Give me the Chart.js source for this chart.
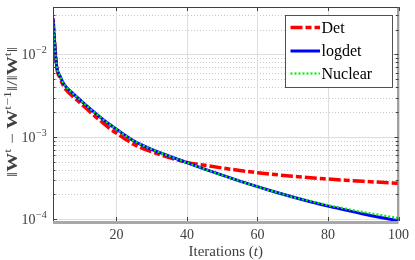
<!DOCTYPE html>
<html>
<head>
<meta charset="utf-8">
<script src="https://cdn.jsdelivr.net/npm/chart.js@4.4.0/dist/chart.umd.min.js"></script>
<style>
  html, body { margin: 0; padding: 0; background: #fff; }
</style>
</head>
<body>
<canvas id="errChart" width="415" height="260"></canvas>
<script>
// values
const iterations = [2, 3, 4, 5, 6, 8, 10, 12, 14, 16, 18, 20, 25, 30, 35, 40, 45, 50, 55, 60, 65, 70, 75, 80, 85, 90, 95, 100];
const detErr = [0.0275, 7.25e-3, 5.19e-3, 4.15e-3, 3.61e-3, 3.0e-3, 2.51e-3, 2.1e-3, 1.76e-3, 1.5e-3, 1.27e-3, 1.106e-3, 8.09e-4, 6.58e-4, 5.59e-4, 4.89e-4, 4.51e-4, 4.18e-4, 3.9e-4, 3.67e-4, 3.48e-4, 3.32e-4, 3.18e-4, 3.07e-4, 2.97e-4, 2.88e-4, 2.8e-4, 2.73e-4];
const logdetErr = [0.0275, 7.46e-3, 5.48e-3, 4.44e-3, 3.92e-3, 3.26e-3, 2.73e-3, 2.29e-3, 1.94e-3, 1.65e-3, 1.42e-3, 1.237e-3, 8.91e-4, 7.05e-4, 5.83e-4, 4.86e-4, 4.06e-4, 3.42e-4, 2.9e-4, 2.48e-4, 2.14e-4, 1.86e-4, 1.63e-4, 1.44e-4, 1.29e-4, 1.156e-4, 1.047e-4, 9.56e-5];
const nuclearErr = [0.0275, 7.46e-3, 5.48e-3, 4.44e-3, 3.92e-3, 3.26e-3, 2.73e-3, 2.29e-3, 1.94e-3, 1.65e-3, 1.42e-3, 1.237e-3, 8.91e-4, 7.05e-4, 5.83e-4, 4.86e-4, 4.06e-4, 3.42e-4, 2.9e-4, 2.48e-4, 2.14e-4, 1.86e-4, 1.655e-4, 1.48e-4, 1.34e-4, 1.22e-4, 1.12e-4, 1.03e-4];
const seriesNames = ["Det", "logdet", "Nuclear"];
const xTickValues = [20, 40, 60, 80, 100];
const yDecadeExps = [-4, -3, -2];

const SERIF = "'Liberation Serif', 'DejaVu Serif', serif";
const seriesStyle = [
  { color: "#ff0000", width: 3.5, dash: [12, 3, 6, 3] },
  { color: "#0000ff", width: 3, dash: [] },
  { color: "#00ee00", width: 2.2, dash: [2, 2] }
];

function toPoints(ys) {
  return iterations.map((t, i) => ({ x: t, y: ys[i] }));
}

function hline(ctx, x0, x1, y) {
  ctx.beginPath(); ctx.moveTo(x0, y); ctx.lineTo(x1, y); ctx.stroke();
}
function vline(ctx, x, y0, y1) {
  ctx.beginPath(); ctx.moveTo(x, y0); ctx.lineTo(x, y1); ctx.stroke();
}

// rich text: [text, kind], kind n = normal, b = bold, s = superscript, i = italic
function fontFor(k, size) {
  if (k === "b") return "bold " + size + "px " + SERIF;
  if (k === "s") return Math.round(size * 0.72) + "px " + SERIF;
  if (k === "i") return "italic " + size + "px " + SERIF;
  return size + "px " + SERIF;
}
function richWidth(ctx, parts, size) {
  let w = 0;
  parts.forEach(([t, k]) => { ctx.font = fontFor(k, size); w += ctx.measureText(t).width; });
  return w;
}
function drawRich(ctx, parts, x, y, size) {
  ctx.textBaseline = "alphabetic";
  ctx.textAlign = "left";
  parts.forEach(([t, k]) => {
    ctx.font = fontFor(k, size);
    ctx.fillText(t, x, k === "s" ? y - size * 0.42 : y);
    x += ctx.measureText(t).width;
  });
}

const frame = {
  id: "frame",
  beforeDatasetsDraw(chart) {
    const { ctx, chartArea: a, scales: { x, y } } = chart;
    ctx.save();
    ctx.lineWidth = 1;
    // minor y grid, dotted
    ctx.strokeStyle = "#c8c8c8";
    ctx.setLineDash([1, 2]);
    for (let e = -5; e <= -1; e++) {
      for (let m = 2; m <= 9; m++) {
        const v = m * Math.pow(10, e);
        if (v < y.min || v > y.max) continue;
        hline(ctx, a.left, a.right, Math.round(y.getPixelForValue(v)) + 0.5);
      }
    }
    ctx.setLineDash([]);
    ctx.strokeStyle = "#dedede";
    yDecadeExps.forEach(e => hline(ctx, a.left, a.right, Math.round(y.getPixelForValue(Math.pow(10, e))) + 0.5));
    xTickValues.forEach(v => vline(ctx, Math.round(x.getPixelForValue(v)) + 0.5, a.top, a.bottom));
    ctx.restore();
  },
  afterDatasetsDraw(chart) {
    const { ctx, chartArea: a, scales: { x, y } } = chart;
    ctx.save();
    // box
    ctx.strokeStyle = "#404040";
    ctx.lineWidth = 1;
    hline(ctx, a.left, a.right, a.top + 0.5);
    vline(ctx, a.left + 0.5, a.top, a.bottom);
    vline(ctx, a.right - 0.5, a.top, a.bottom);
    // tick marks, inward
    xTickValues.forEach(v => {
      const px = Math.round(x.getPixelForValue(v)) + 0.5;
      vline(ctx, px, a.bottom, a.bottom - 4);
      vline(ctx, px, a.top, a.top + 4);
    });
    for (let e = -5; e <= -1; e++) {
      for (let m = 1; m <= 9; m++) {
        const v = m * Math.pow(10, e);
        if (v < y.min || v > y.max) continue;
        const py = Math.round(y.getPixelForValue(v)) + 0.5;
        const len = m === 1 ? 4 : 2.5;
        hline(ctx, a.left, a.left + len, py);
        hline(ctx, a.right, a.right - len, py);
      }
    }
    ctx.strokeStyle = "#a8a8a8";
    ctx.lineWidth = 3;
    hline(ctx, a.left, a.right, a.bottom + 1.5);

    // y tick labels 10^e
    ctx.fillStyle = "#404040";
    yDecadeExps.forEach(e => {
      const py = y.getPixelForValue(Math.pow(10, e));
      ctx.font = "14px " + SERIF;
      ctx.textAlign = "right";
      ctx.textBaseline = "alphabetic";
      ctx.fillText("10", 35.5, py + 5);
      ctx.font = "10px " + SERIF;
      ctx.textAlign = "left";
      ctx.fillText("\u2212" + Math.abs(e), 36, py - 1);
    });

    // x title
    const xParts = [["Iterations (", "n"], ["t", "i"], [")", "n"]];
    const xw = richWidth(ctx, xParts, 15);
    drawRich(ctx, xParts, (a.left + a.right) / 2 - xw / 2, 256, 15);

    // y title, stretched along its length to the reference span
    const yParts = [["\u2016", "n"], ["W", "b"], ["t", "s"], [" \u2212 ", "n"], ["W", "b"], ["t\u22121", "s"],
      ["\u2016/\u2016", "n"], ["W", "b"], ["t", "s"], ["\u2016", "n"]];
    const ysz = 15;
    const yw = richWidth(ctx, yParts, ysz);
    const k = 130 / yw;
    ctx.save();
    ctx.translate(17, (a.top + a.bottom) / 2 - 2);
    ctx.rotate(-Math.PI / 2);
    ctx.scale(k, 1);
    drawRich(ctx, yParts, -yw / 2, 0, ysz);
    ctx.restore();

    // legend
    const lx = 285.5, ly = 15.5, lw = 107, lh = 72;
    ctx.fillStyle = "#ffffff";
    ctx.fillRect(lx, ly, lw, lh);
    ctx.strokeStyle = "#505050";
    ctx.lineWidth = 1;
    ctx.strokeRect(lx, ly, lw, lh);
    const rows = [27.5, 51, 73.5];
    seriesNames.forEach((name, i) => {
      const s = seriesStyle[i];
      ctx.strokeStyle = s.color;
      ctx.lineWidth = s.width;
      ctx.setLineDash(s.dash);
      hline(ctx, 290.5, 320, rows[i]);
      ctx.setLineDash([]);
      ctx.fillStyle = "#000";
      ctx.font = "16px " + SERIF;
      ctx.textAlign = "left";
      ctx.textBaseline = "middle";
      ctx.fillText(name, 321.5, rows[i] + 1);
    });
    ctx.restore();
  }
};

const allSeries = [detErr, logdetErr, nuclearErr];

new Chart(document.getElementById("errChart"), {
  type: "line",
  data: {
    datasets: allSeries.map((ys, i) => ({
      label: seriesNames[i],
      data: toPoints(ys),
      borderColor: seriesStyle[i].color,
      borderWidth: seriesStyle[i].width,
      borderDash: seriesStyle[i].dash,
      borderCapStyle: "butt",
      pointRadius: 0,
      fill: false,
      cubicInterpolationMode: "monotone",
      order: 3 - i
    }))
  },
  options: {
    responsive: false,
    animation: false,
    devicePixelRatio: 1,
    layout: { padding: { top: 7, right: 13, left: 0, bottom: 0 } },
    plugins: { legend: { display: false }, tooltip: { enabled: false } },
    scales: {
      x: {
        type: "linear",
        min: 2,
        max: 100,
        afterBuildTicks: s => { s.ticks = xTickValues.map(v => ({ value: v })); },
        afterFit: s => { s.height = 39; },
        grid: { display: false, drawTicks: false },
        border: { display: false },
        ticks: {
          color: "#404040",
          padding: 6,
          maxRotation: 0,
          font: { family: SERIF, size: 14 }
        }
      },
      y: {
        type: "logarithmic",
        min: 9.5e-5,
        max: 0.0377,
        afterFit: s => { s.width = 53; },
        grid: { display: false },
        border: { display: false },
        ticks: { display: false }
      }
    }
  },
  plugins: [frame]
});
</script>
</body>
</html>
